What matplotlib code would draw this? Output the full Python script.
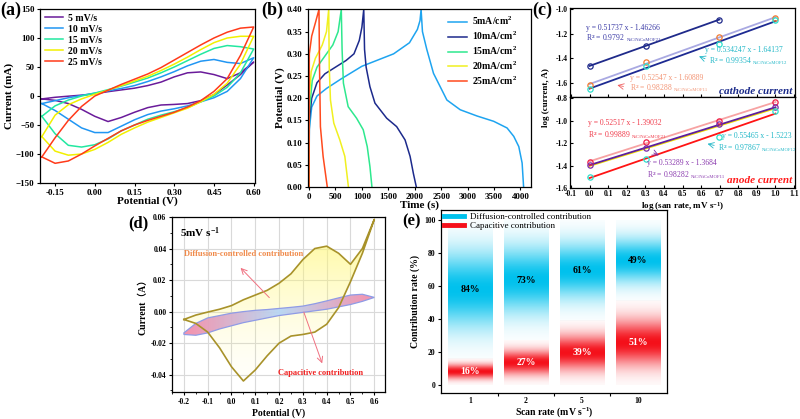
import numpy as np
import matplotlib
matplotlib.use('Agg')
import matplotlib.pyplot as plt
from matplotlib.patches import Polygon
from matplotlib.lines import Line2D
from matplotlib.offsetbox import TextArea, HPacker, AnnotationBbox
from matplotlib.ticker import MultipleLocator, FormatStrFormatter, FixedLocator

plt.rcParams['font.family'] = ['Liberation Serif', 'DejaVu Serif']
plt.rcParams['font.weight'] = 'bold'
plt.rcParams['axes.labelweight'] = 'bold'
plt.rcParams['mathtext.fontset'] = 'custom'
plt.rcParams['mathtext.rm'] = 'Liberation Serif'
plt.rcParams['mathtext.bf'] = 'Liberation Serif:bold'
plt.rcParams['mathtext.it'] = 'Liberation Serif:italic'
plt.rcParams['axes.linewidth'] = 0.9

# ---------------- (a) CV data (mA) ----------------
cv_potential = [-0.2, -0.15, -0.1, -0.05, 0.0, 0.05, 0.1, 0.15, 0.2, 0.25, 0.3, 0.35, 0.4, 0.45, 0.5, 0.55, 0.6]
cv_labels = ['5 mV/s', '10 mV/s', '15 mV/s', '20 mV/s', '25 mV/s']
cv5_anodic = [-5, -2.2, -0.3, 1.5, 3.8, 7.5, 10.5, 13.5, 18, 24, 33, 40, 41.5, 37, 30, 40, 58.5]
cv5_cathodic = [-5, -7.5, -13, -23, -35, -44, -37, -28, -20, -15.5, -14.5, -13, -8, 2.5, 19, 37, 58.5]
cv10_anodic = [-13, -8, -3, 1, 5, 9, 13, 18, 25, 33, 42, 52, 60, 63, 58, 56, 66]
cv10_cathodic = [-13, -25, -40, -55, -63, -63, -52, -41, -32, -26, -22, -17, -10, -3, 8, 30, 66]
cv15_anodic = [-35, -17, -7, 0, 5, 11, 17, 24, 31, 40, 50, 61, 72, 82, 87, 85, 81]
cv15_cathodic = [-35, -65, -85, -88, -84, -74, -60, -50, -40, -33, -27, -20, -10, 0, 15, 40, 81]
cv20_anodic = [-70, -33, -15, -5, 3, 10, 18, 26, 34, 44, 55, 67, 80, 92, 100, 103, 103]
cv20_cathodic = [-70, -95, -102, -100, -92, -80, -66, -55, -45, -37, -29, -21, -10, 3, 22, 55, 103]
cv25_anodic = [-105, -72, -42, -18, 0, 10, 20, 29, 38, 49, 62, 75, 88, 100, 110, 117, 119]
cv25_cathodic = [-105, -116, -112, -100, -86, -73, -60, -50, -42, -35, -28, -19, -8, 8, 30, 70, 119]
cv_colors = ['#6a1b9a', '#2196f3', '#22e8a0', '#f2f000', '#ff3a1a']

# ---------------- (b) GCD data ----------------
gcd_labels = ['5mA/cm$^\\mathbf{2}$', '10mA/cm$^\\mathbf{2}$', '15mA/cm$^\\mathbf{2}$',
              '20mA/cm$^\\mathbf{2}$', '25mA/cm$^\\mathbf{2}$']
gcd5_t = [0, 5, 50, 150, 330, 600, 1000, 1600, 1900, 2050, 2100, 2120,
          2146, 2228, 2355, 2608, 2861, 3178, 3494, 3747, 3874, 3969, 4032, 4060]
gcd5_v = [0, 0.13, 0.18, 0.205, 0.222, 0.243, 0.272, 0.30, 0.325, 0.355, 0.375, 0.40,
          0.35, 0.31, 0.256, 0.196, 0.174, 0.16, 0.148, 0.133, 0.114, 0.091, 0.054, 0.0]
gcd10_t = [0, 5, 50, 150, 300, 500, 700, 850, 950, 1000, 1035,
           1050, 1080, 1152, 1247, 1469, 1658, 1817, 1912, 1975, 2030]
gcd10_v = [0, 0.15, 0.2, 0.235, 0.255, 0.27, 0.285, 0.30, 0.33, 0.36, 0.40,
           0.31, 0.27, 0.226, 0.189, 0.155, 0.136, 0.106, 0.069, 0.03, 0.0]
gcd15_t = [0, 5, 60, 150, 300, 450, 550, 610, 625, 650, 740, 899, 1025, 1101, 1152, 1190]
gcd15_v = [0, 0.17, 0.24, 0.27, 0.295, 0.32, 0.35, 0.40, 0.31, 0.234, 0.181, 0.155, 0.129, 0.091, 0.046, 0.0]
gcd20_t = [0, 5, 40, 120, 250, 330, 372, 382, 405, 468, 582, 677, 745]
gcd20_v = [0, 0.2, 0.26, 0.29, 0.32, 0.35, 0.40, 0.27, 0.196, 0.144, 0.106, 0.069, 0.0]
gcd25_t = [0, 5, 50, 120, 188, 198, 215, 266, 345]
gcd25_v = [0, 0.30, 0.34, 0.37, 0.40, 0.27, 0.136, 0.069, 0.0]
gcd_colors = ['#1ea4f0', '#1c2a8c', '#2ee88e', '#f0f020', '#ff4a1e']

# ---------------- (c) log i vs log v ----------------
log_rate = [0.0, 0.30103, 0.69897, 1.0]
cath_mof21 = [-1.461, -1.299, -1.088]
cath_mof11 = [-1.616, -1.432, -1.227, -1.075]
cath_mof12 = [-1.648, -1.464, -1.283, -1.093]
anod_mof21 = [-1.369, -1.185, -1.007, -0.830]
anod_mof11 = [-1.393, -1.244, -1.031, -0.883]
anod_mof12 = [-1.496, -1.342, -1.141, -0.913]
anod_yellow_line = [-1.402, -0.890]

# ---------------- (d) 5 mV/s CV separation (uses 5 mV/s CV, in A) ----------------
cap_upper = [-0.0135, -0.0075, -0.004, -0.0025, -0.001, 0.0, 0.0008, 0.0013, 0.002, 0.0027, 0.0035,
             0.005, 0.0068, 0.0087, 0.0105, 0.011, 0.009]
cap_lower = [-0.0145, -0.015, -0.0135, -0.011, -0.009, -0.007, -0.0055, -0.004, -0.0025, -0.0015, -0.0005,
             0.0005, 0.0015, 0.003, 0.0045, 0.0065, 0.009]

# ---------------- (e) contributions ----------------
scan_rates = ['1', '2', '5', '10']
diffusion_pct = [84, 73, 61, 49]
capacitive_pct = [16, 27, 39, 51]

fig = plt.figure(figsize=(8, 4.19), dpi=100)

def style_ticks(ax, fs, direction='out'):
    ax.tick_params(axis='both', labelsize=fs, direction=direction, length=2.5, width=0.8, pad=1.5)
    for lab in ax.get_xticklabels() + ax.get_yticklabels():
        lab.set_fontweight('bold')

# ======== (a) ========
axa = fig.add_axes([0.05, 0.5632, 0.26875, 0.4153])
anodic = [cv5_anodic, cv10_anodic, cv15_anodic, cv20_anodic, cv25_anodic]
cathodic = [cv5_cathodic, cv10_cathodic, cv15_cathodic, cv20_cathodic, cv25_cathodic]
cvx = np.array(cv_potential)
for lab, col, up, lo in zip(cv_labels, cv_colors, anodic, cathodic):
    x = np.concatenate([cvx, cvx[::-1]])
    y = np.concatenate([np.array(up), np.array(lo)[::-1]])
    axa.plot(x, y, color=col, lw=1.1, label=lab)
axa.set_xlim(-0.207, 0.605)
axa.set_ylim(-150, 150)
axa.xaxis.set_major_locator(FixedLocator([-0.15, 0.0, 0.15, 0.30, 0.45, 0.60]))
axa.xaxis.set_major_formatter(FormatStrFormatter('%.2f'))
axa.yaxis.set_major_locator(MultipleLocator(50))
style_ticks(axa, 6.5)
axa.set_xlabel('Potential (V)', fontsize=8, labelpad=0)
axa.set_ylabel('Current (mA)', fontsize=8, labelpad=1)
axa.legend(loc='upper left', bbox_to_anchor=(0.0, 1.0), frameon=False, fontsize=7,
           handlelength=1.9, handletextpad=0.5, labelspacing=0.2, borderaxespad=0.2, borderpad=0.3)
fig.text(0.0, 0.995, '(a)', fontsize=13, fontweight='bold', va='top', ha='left')

# ======== (b) ========
axb = fig.add_axes([0.385, 0.5537, 0.27875, 0.4248])
for lab, col, t, v in zip(gcd_labels, gcd_colors,
                          [gcd5_t, gcd10_t, gcd15_t, gcd20_t, gcd25_t],
                          [gcd5_v, gcd10_v, gcd15_v, gcd20_v, gcd25_v]):
    axb.plot(t, v, color=col, lw=1.1, label=lab)
axb.set_xlim(-20, 4200)
axb.set_ylim(0, 0.401)
axb.xaxis.set_major_locator(MultipleLocator(500))
axb.yaxis.set_major_locator(MultipleLocator(0.05))
axb.yaxis.set_major_formatter(FormatStrFormatter('%.2f'))
style_ticks(axb, 6.5)
axb.set_xlabel('Time (s)', fontsize=8, labelpad=0)
axb.set_ylabel('Potential (V)', fontsize=8, labelpad=1)
axb.legend(loc='upper left', bbox_to_anchor=(0.6, 1.0), frameon=False, fontsize=7,
           handlelength=2.0, handletextpad=0.5, labelspacing=0.25, borderaxespad=0.3, borderpad=0.3)
fig.text(0.327, 0.995, '(b)', fontsize=13, fontweight='bold', va='top', ha='left')

# ======== (c) ========
def rtext(ax, x, y, main, small, color, fs=5.5):
    t1 = TextArea(main, textprops=dict(color=color, fontsize=fs, fontweight='normal'))
    t2 = TextArea(small, textprops=dict(color=color, fontsize=fs * 0.62, fontweight='normal'))
    box = HPacker(children=[t1, t2], align='baseline', pad=0, sep=1.2)
    ab = AnnotationBbox(box, (x, y), xycoords='data', box_alignment=(0, 0.5), frameon=False, pad=0)
    ax.add_artist(ab)

def fitline(ax, xs, ys, color, lw=1.3):
    k, b = np.polyfit(xs, ys, 1)
    xx = np.array([xs[0], xs[-1]])
    ax.plot(xx, k * xx + b, color=color, lw=lw, zorder=2)

axc1 = fig.add_axes([0.7125, 0.7685, 0.28125, 0.2124])
axc2 = fig.add_axes([0.7125, 0.5506, 0.28125, 0.2179])
lr = np.array(log_rate)
# cathode
fitline(axc1, lr[:3], cath_mof21, '#1f2a8a')
fitline(axc1, lr, cath_mof11, '#a9a9e2')
fitline(axc1, lr, cath_mof12, '#1d2a92')
axc1.plot(lr[:3], cath_mof21, 'o', mfc='none', mec='#1f2a8a', ms=3.8, mew=0.9, zorder=3)
axc1.plot(lr, cath_mof11, 'o', mfc='none', mec='#f07a30', ms=3.8, mew=0.9, zorder=3)
axc1.plot(lr, cath_mof12, 'o', mfc='none', mec='#2de0cc', ms=3.8, mew=0.9, zorder=3)
axc1.text(-0.018, -1.155, 'y = 0.51737 x - 1.46266', fontsize=5.5, color='#3a3aa6', fontweight='normal', va='center')
rtext(axc1, -0.018, -1.235, 'R$^2$ = 0.9792', 'NiC/NiCoMOF21', '#3a3aa6')
axc1.text(0.62, -1.336, 'y = 0.534247 x - 1.64137', fontsize=5.5, color='#22b8c8', fontweight='normal', va='center')
rtext(axc1, 0.64, -1.42, 'R$^2$ = 0.99354', 'NiC/NiCoMOF12', '#22b8c8')
axc1.annotate('', xy=(0.575, -1.376), xytext=(0.635, -1.41),
              arrowprops=dict(arrowstyle='->', color='#22b8c8', lw=0.6))
axc1.text(0.215, -1.56, 'y = 0.52547 x - 1.60889', fontsize=5.5, color='#f39575', fontweight='normal', va='center')
rtext(axc1, 0.215, -1.635, 'R$^2$ = 0.98288', 'NiC/NiCoMOF11', '#f39575')
axc1.annotate('', xy=(0.135, -1.61), xytext=(0.197, -1.63),
              arrowprops=dict(arrowstyle='->', color='#f06060', lw=0.6))
axc1.text(1.09, -1.665, 'cathode current', fontsize=8, color='#1a2a8a', fontweight='bold',
          style='italic', ha='right', va='center')
axc1.set_xlim(-0.105, 1.105)
axc1.set_ylim(-1.71, -0.995)
axc1.yaxis.set_major_locator(MultipleLocator(0.2))
axc1.yaxis.set_major_formatter(FormatStrFormatter('%.1f'))
axc1.xaxis.set_major_locator(MultipleLocator(0.1))
style_ticks(axc1, 5.5, 'in')
axc1.tick_params(axis='x', labelbottom=False)
# anode
fitline(axc2, lr, anod_mof21, '#f7a3a3')
axc2.plot([lr[0], lr[-1]], anod_yellow_line, color='#f0e000', lw=1.3, zorder=2)
fitline(axc2, lr, anod_mof11, '#5d1f9e')
fitline(axc2, lr, anod_mof12, '#ff1414')
axc2.plot(lr, anod_mof21, 'o', mfc='none', mec='#f01e46', ms=3.8, mew=0.9, zorder=3)
axc2.plot(lr, anod_mof11, 'o', mfc='none', mec='#7a2aa6', ms=3.8, mew=0.9, zorder=3)
axc2.plot(lr, anod_mof12, 'o', mfc='none', mec='#2de0cc', ms=3.8, mew=0.9, zorder=3)
axc2.text(-0.01, -1.022, 'y = 0.52517 x - 1.39032', fontsize=5.5, color='#f03848', fontweight='normal', va='center')
rtext(axc2, -0.01, -1.12, 'R$^2$ = 0.99889', 'NiC/NiCoMOF21', '#f03848')
axc2.text(0.715, -1.14, 'y = 0.55465 x - 1.5223', fontsize=5.5, color='#22b8c8', fontweight='normal', va='center')
rtext(axc2, 0.69, -1.238, 'R$^2$ = 0.97867', 'NiC/NiCoMOF12', '#22b8c8')
axc2.annotate('', xy=(0.62, -1.2), xytext=(0.685, -1.225),
              arrowprops=dict(arrowstyle='->', color='#22b8c8', lw=0.6))
axc2.text(0.31, -1.378, 'y = 0.53289 x - 1.3684', fontsize=5.5, color='#8a3aae', fontweight='normal', va='center')
rtext(axc2, 0.31, -1.476, 'R$^2$ = 0.98282', 'NiC/NiCoMOF11', '#8a3aae')
axc2.annotate('', xy=(0.386, -1.318), xytext=(0.332, -1.276),
              arrowprops=dict(arrowstyle='->', color='#7a2aa6', lw=0.6))
axc2.text(1.09, -1.535, 'anode current', fontsize=8, color='#ff1a1a', fontweight='bold',
          style='italic', ha='right', va='center')
axc2.set_xlim(-0.105, 1.105)
axc2.set_ylim(-1.6, -0.79)
axc2.yaxis.set_major_locator(MultipleLocator(0.2))
axc2.yaxis.set_major_formatter(FormatStrFormatter('%.1f'))
axc2.xaxis.set_major_locator(MultipleLocator(0.1))
axc2.xaxis.set_major_formatter(FormatStrFormatter('%.1f'))
style_ticks(axc2, 5.5, 'in')
axc2.set_xlabel('log (san rate, mV s$^{\\mathbf{-1}}$)', fontsize=6.5, labelpad=1)
fig.text(0.683, 0.768, 'log (current, A)', fontsize=6.5, fontweight='bold', rotation=90, ha='center', va='center')
fig.text(0.665, 0.995, '(c)', fontsize=13, fontweight='bold', va='top', ha='left')

# ======== (d) ========
axd = fig.add_axes([0.215, 0.0644, 0.26625, 0.4177])
cv_up_A = np.array(cv5_anodic) / 1000.0
cv_lo_A = np.array(cv5_cathodic) / 1000.0
cvx_loop = np.concatenate([cvx, cvx[::-1]])
cvy_loop = np.concatenate([cv_up_A, cv_lo_A[::-1]])
cv_poly = Polygon(np.column_stack([cvx_loop, cvy_loop]), closed=True, facecolor='none', edgecolor='none')
axd.add_patch(cv_poly)
ny = 200
yy = np.linspace(0, 1, ny)
ygrad = np.zeros((ny, 2, 4))
ygrad[..., 0] = 1.0
ygrad[..., 1] = 0.97
ygrad[..., 2] = 0.45
ygrad[..., 3] = (0.04 + 0.75 * yy ** 1.6)[:, None]
im = axd.imshow(ygrad, extent=[-0.2, 0.6, -0.045, 0.06], origin='lower', aspect='auto', zorder=1,
                interpolation='bilinear')
im.set_clip_path(cv_poly)
band_poly = Polygon(np.column_stack([np.concatenate([cvx, cvx[::-1]]),
                                     np.concatenate([np.array(cap_upper), np.array(cap_lower)[::-1]])]),
                    closed=True, facecolor='none', edgecolor='#8f9be6', lw=0.9, zorder=3)
axd.add_patch(band_poly)
nx = 300
xs = np.linspace(0, 1, nx)
pink = np.array([0.96, 0.55, 0.66])
blue = np.array([0.72, 0.84, 0.96])
mix = np.abs(xs - 0.5) * 2
xgrad = np.zeros((2, nx, 4))
xgrad[..., :3] = (blue[None, :] * (1 - mix[:, None]) + pink[None, :] * mix[:, None])[None, :, :]
xgrad[..., 3] = 0.95
im2 = axd.imshow(xgrad, extent=[-0.2, 0.6, -0.016, 0.012], origin='lower', aspect='auto', zorder=2,
                 interpolation='bilinear')
im2.set_clip_path(band_poly)
axd.plot(cvx_loop, cvy_loop, color='#a8922a', lw=1.2, zorder=4)
axd.set_xlim(-0.25, 0.645)
axd.set_ylim(-0.051, 0.06)
axd.xaxis.set_major_locator(MultipleLocator(0.1))
axd.xaxis.set_minor_locator(MultipleLocator(0.05))
axd.xaxis.set_major_formatter(FormatStrFormatter('%.1f'))
axd.yaxis.set_major_locator(MultipleLocator(0.02))
axd.yaxis.set_minor_locator(MultipleLocator(0.01))
axd.yaxis.set_major_formatter(FormatStrFormatter('%.2f'))
axd.grid(True, which='major', color='#d9d9d9', lw=0.8, zorder=0)
axd.set_axisbelow(True)
style_ticks(axd, 5.5)
axd.tick_params(which='minor', direction='out', length=1.5, width=0.6)
axd.set_xlabel('Potential (V)', fontsize=7, labelpad=2)
axd.set_ylabel('Current（A）', fontsize=7, labelpad=2, family=['Liberation Serif', 'Noto Sans CJK SC'])
axd.text(-0.215, 0.05, '5mV s$^{\\mathbf{-1}}$', fontsize=8, fontweight='bold', va='center')
axd.text(-0.2, 0.0365, 'Diffusion-controlled contribution', fontsize=6, color='#f08a4a',
         fontweight='bold', va='center')
axd.annotate('', xy=(0.03, 0.029), xytext=(0.167, 0.0076),
             arrowprops=dict(arrowstyle='->', color='#f07080', lw=0.7), zorder=5)
axd.text(0.194, -0.039, 'Capacitive contribution', fontsize=6, color='#f02020',
         fontweight='bold', va='center')
axd.annotate('', xy=(0.385, -0.0345), xytext=(0.3, 0.0013),
             arrowprops=dict(arrowstyle='->', color='#f07080', lw=0.7), zorder=5)
fig.text(0.16, 0.485, '(d)', fontsize=12, fontweight='bold', va='top', ha='left')

# ======== (e) ========
axe = fig.add_axes([0.55125, 0.0621, 0.2825, 0.4368])

def grad_bar(ax, xc, w, y0, y1, color, n=200):
    ys = np.linspace(y0, y1, n)
    c = 0.5 * (y0 + y1)
    h = 0.5 * (y1 - y0)
    a = np.exp(-0.5 * ((ys - c) / (0.37 * h)) ** 2)
    rgba = np.zeros((n, 2, 4))
    rgba[..., :3] = color
    rgba[..., 3] = a[:, None]
    ax.imshow(rgba, extent=[xc - w / 2, xc + w / 2, y0, y1], origin='lower', aspect='auto',
              interpolation='bilinear', zorder=2)

blue_e = np.array([0.0, 0.76, 0.93])
red_e = np.array([0.96, 0.06, 0.10])
for i, (d, cpt) in enumerate(zip(diffusion_pct, capacitive_pct)):
    grad_bar(axe, i, 0.8, 0, cpt, red_e)
    grad_bar(axe, i, 0.8, cpt, cpt + d, blue_e)
    axe.text(i, cpt + d / 2, f'{d}%', ha='center', va='center', fontsize=7, fontweight='bold',
             color='black', zorder=4)
    axe.text(i, cpt / 2, f'{cpt}%', ha='center', va='center', fontsize=7, fontweight='bold',
             color='white', zorder=4)
axe.set_xlim(-0.52, 3.52)
axe.set_ylim(-4.8, 106)
axe.set_xticks(range(len(scan_rates)))
axe.set_xticklabels(scan_rates)
axe.set_xticks([0.5, 1.5, 2.5], minor=True)
axe.yaxis.set_major_locator(MultipleLocator(20))
style_ticks(axe, 5.5)
axe.tick_params(axis='x', which='major', length=0, pad=3)
axe.tick_params(axis='x', which='minor', direction='out', length=2.5, width=0.8)
axe.set_xlabel('Scan rate (mV s$^{\\mathbf{-1}}$)', fontsize=7, labelpad=0)
axe.set_ylabel('Contribution rate (%)', fontsize=7, labelpad=3)
handles = [Line2D([], [], color=blue_e, lw=3.5), Line2D([], [], color=red_e, lw=3.5)]
axe.legend(handles, ['Diffusion-controlled contribution', 'Capacitive contribution'],
           loc='upper left', bbox_to_anchor=(0.0, 1.0), frameon=False,
           prop={'size': 6.5, 'weight': 'normal'}, handlelength=2.3, handletextpad=0.6,
           labelspacing=0.1, borderaxespad=0.1, borderpad=0.2)
fig.text(0.503, 0.49, '(e)', fontsize=12, fontweight='bold', va='top', ha='left')

fig.savefig('out.png', dpi=100)
